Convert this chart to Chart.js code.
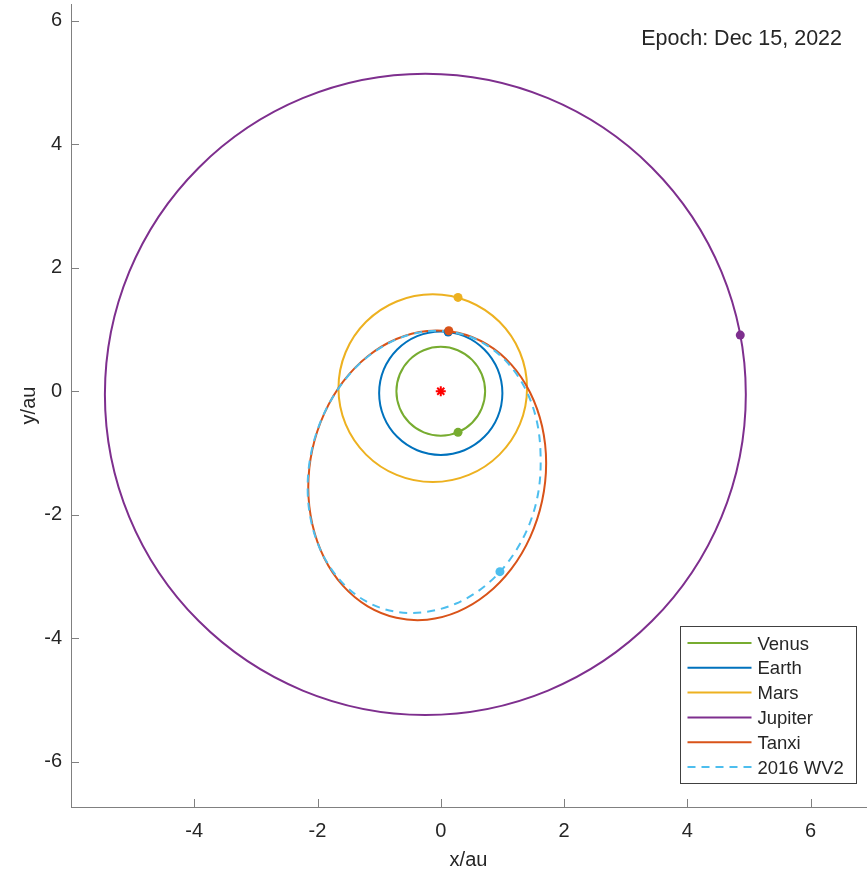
<!DOCTYPE html>
<html>
<head>
<meta charset="utf-8">
<script src="https://cdn.jsdelivr.net/npm/chart.js"></script>
<style>
  html, body { margin: 0; padding: 0; background: #fff; }
  #wrap { width: 867px; height: 878px; }
</style>
</head>
<body>
<div id="wrap"><canvas id="orbitChart" width="867" height="878"></canvas></div>
<script>
// orbit points, [x, y] in au
const venusOrbit = [[0.72, 0], [0.665, 0.276], [0.509, 0.509], [0.276, 0.665], [0, 0.72], [-0.276, 0.665], [-0.509, 0.509], [-0.665, 0.276],
  [-0.72, 0], [-0.665, -0.276], [-0.509, -0.509], [-0.276, -0.665], [0, -0.72], [0.276, -0.665], [0.509, -0.509], [0.665, -0.276]];
const earthOrbit = [[1, -0.03], [0.924, 0.353], [0.707, 0.677], [0.383, 0.894], [0, 0.97], [-0.383, 0.894], [-0.707, 0.677], [-0.924, 0.353],
  [-1, -0.03], [-0.924, -0.413], [-0.707, -0.737], [-0.383, -0.954], [0, -1.03], [0.383, -0.954], [0.707, -0.737], [0.924, -0.413]];
const marsOrbit = [[1.40, 0.05], [1.284, 0.632], [0.952, 1.125], [0.456, 1.454], [-0.13, 1.57], [-0.716, 1.454], [-1.212, 1.125], [-1.544, 0.632],
  [-1.66, 0.05], [-1.544, -0.532], [-1.212, -1.025], [-0.716, -1.354], [-0.13, -1.47], [0.456, -1.354], [0.952, -1.025], [1.284, -0.532]];
const jupiterOrbit = [[4.95, -0.05], [4.554, 1.936], [3.427, 3.62], [1.74, 4.745], [-0.25, 5.14], [-2.24, 4.745], [-3.927, 3.62], [-5.054, 1.936],
  [-5.45, -0.05], [-5.054, -2.036], [-3.927, -3.72], [-2.24, -4.845], [-0.25, -5.24], [1.74, -4.845], [3.427, -3.72], [4.554, -2.036]];
const tanxiOrbit = [[1.71, -1.165], [1.644, -0.567], [1.451, -0.023], [1.145, 0.431], [0.745, 0.762], [0.28, 0.947],
  [-0.22, 0.977], [-0.72, 0.847], [-1.185, 0.567], [-1.585, 0.155], [-1.891, -0.361], [-2.084, -0.943],
  [-2.15, -1.555], [-2.084, -2.153], [-1.891, -2.698], [-1.585, -3.151], [-1.185, -3.482], [-0.72, -3.667],
  [-0.22, -3.697], [0.28, -3.567], [0.745, -3.287], [1.145, -2.875], [1.451, -2.36], [1.644, -1.777]];
const wv2Orbit = [[1.62, -1.051], [1.556, -0.472], [1.367, 0.051], [1.066, 0.48], [0.675, 0.789], [0.219, 0.954],
  [-0.27, 0.966], [-0.759, 0.823], [-1.215, 0.535], [-1.606, 0.121], [-1.907, -0.39], [-2.096, -0.963],
  [-2.16, -1.559], [-2.096, -2.138], [-1.907, -2.661], [-1.606, -3.09], [-1.215, -3.399], [-0.759, -3.564],
  [-0.27, -3.576], [0.24, -3.44], [0.72, -3.15], [1.11, -2.74], [1.41, -2.22], [1.58, -1.65]];

const names = ['Venus', 'Earth', 'Mars', 'Jupiter', 'Tanxi', '2016 WV2'];
const positions = [[0.28, -0.665], [0.12, 0.96], [0.28, 1.52], [4.86, 0.91], [0.13, 0.98], [0.96, -2.92]];
const sunPos = [0, 0];
const xTicks = [-4, -2, 0, 2, 4, 6];
const yTicks = [-6, -4, -2, 0, 2, 4, 6];
const epochText = 'Epoch: Dec 15, 2022';

const colors = ['#77AC30', '#0072BD', '#EDB120', '#7E2F8E', '#D95319', '#4DBEEE'];
const font = "'Liberation Sans', Arial, sans-serif";
const axisColor = '#808080';
const textColor = '#262626';

const orbits = [venusOrbit, earthOrbit, marsOrbit, jupiterOrbit, tanxiOrbit, wv2Orbit];

// wrap the ring so every drawn point has both neighbours, then hide the two extra segments
function ring(pts) {
  const n = pts.length;
  return [pts[n - 1], ...pts, pts[0], pts[1]].map(p => ({ x: p[0], y: p[1] }));
}

const orbitSets = orbits.map((pts, i) => {
  const last = pts.length + 2;
  return {
    label: names[i],
    data: ring(pts),
    showLine: true,
    borderColor: colors[i],
    backgroundColor: colors[i],
    borderWidth: 2,
    borderDash: i === 5 ? [8, 6] : [],
    pointRadius: 0,
    pointHoverRadius: 0,
    tension: 0.34,
    order: 20 - i,
    segment: {
      borderColor: c => (c.p0DataIndex === 0 || c.p1DataIndex === last) ? 'rgba(0,0,0,0)' : undefined
    }
  };
});

const dotOrder = [3, 4, 3, 3, 2, 2];
const dotSets = positions.map((p, i) => ({
  label: names[i] + ' now',
  data: [{ x: p[0], y: p[1] }],
  pointRadius: 4.5,
  pointBackgroundColor: colors[i],
  pointBorderColor: colors[i],
  pointBorderWidth: 0,
  order: dotOrder[i]
}));

const sunSet = {
  label: 'Sun',
  data: [{ x: sunPos[0], y: sunPos[1] }],
  pointStyle: 'star',
  pointRadius: 5,
  pointBorderColor: '#ff0000',
  pointBorderWidth: 2,
  order: 0
};

const decor = {
  id: 'decor',
  afterDraw(chart) {
    const { ctx, chartArea: a, scales: { x, y } } = chart;
    ctx.save();
    ctx.strokeStyle = axisColor;
    ctx.lineWidth = 1;
    ctx.setLineDash([]);
    ctx.beginPath();
    xTicks.forEach(v => {
      const px = Math.round(x.getPixelForValue(v)) + 0.5;
      ctx.moveTo(px, a.bottom);
      ctx.lineTo(px, a.bottom - 8);
    });
    yTicks.forEach(v => {
      const py = Math.round(y.getPixelForValue(v)) + 0.5;
      ctx.moveTo(a.left, py);
      ctx.lineTo(a.left + 8, py);
    });
    ctx.stroke();

    ctx.fillStyle = textColor;
    ctx.font = '21.5px ' + font;
    ctx.textAlign = 'right';
    ctx.textBaseline = 'alphabetic';
    ctx.fillText(epochText, a.right - 24, a.top + 41);

    // legend box
    const bw = 176, bh = 157;
    const bx = Math.round(a.right - 10 - bw) + 0.5;
    const by = Math.round(a.bottom - 24 - bh) + 0.5;
    ctx.fillStyle = '#fff';
    ctx.fillRect(bx, by, bw, bh);
    ctx.strokeStyle = '#404040';
    ctx.strokeRect(bx, by, bw, bh);
    ctx.font = '18.5px ' + font;
    ctx.textAlign = 'left';
    orbitSets.forEach((ds, i) => {
      const ly = by + 16.5 + i * 24.8;
      ctx.strokeStyle = ds.borderColor;
      ctx.lineWidth = 2;
      ctx.setLineDash(ds.borderDash);
      ctx.beginPath();
      ctx.moveTo(bx + 7, ly);
      ctx.lineTo(bx + 71, ly);
      ctx.stroke();
      ctx.setLineDash([]);
      ctx.fillStyle = textColor;
      ctx.fillText(ds.label, bx + 77, ly + 6.5);
    });
    ctx.restore();
  }
};

const ctx = document.getElementById('orbitChart').getContext('2d');
new Chart(ctx, {
  type: 'scatter',
  data: { datasets: [...orbitSets, ...dotSets, sunSet] },
  options: {
    responsive: false,
    animation: false,
    layout: { autoPadding: false, padding: { top: 4, right: 1, left: 0, bottom: 0 } },
    plugins: { legend: { display: false }, tooltip: { enabled: false } },
    scales: {
      x: {
        type: 'linear',
        position: 'bottom',
        min: -6,
        max: 6.9,
        afterBuildTicks: s => { s.ticks = xTicks.map(v => ({ value: v })); },
        afterFit: s => { s.height = 71; s.paddingLeft = 0; s.paddingRight = 0; },
        grid: { display: false, drawTicks: false },
        border: { display: true, color: axisColor, width: 1 },
        ticks: { color: textColor, font: { family: font, size: 20 }, padding: 12 },
        title: { display: true, text: 'x/au', color: textColor, font: { family: font, size: 20 }, padding: { top: 0, bottom: 6 } }
      },
      y: {
        type: 'linear',
        min: -6.73,
        max: 6.27,
        afterBuildTicks: s => { s.ticks = yTicks.map(v => ({ value: v })); },
        afterFit: s => { s.width = 71; s.paddingTop = 0; s.paddingBottom = 0; },
        grid: { display: false, drawTicks: false },
        border: { display: true, color: axisColor, width: 1 },
        ticks: { color: textColor, font: { family: font, size: 20 }, padding: 9 },
        title: { display: true, text: 'y/au', color: textColor, font: { family: font, size: 20 }, padding: { top: 17, bottom: 0 } }
      }
    }
  },
  plugins: [decor]
});
</script>
</body>
</html>
